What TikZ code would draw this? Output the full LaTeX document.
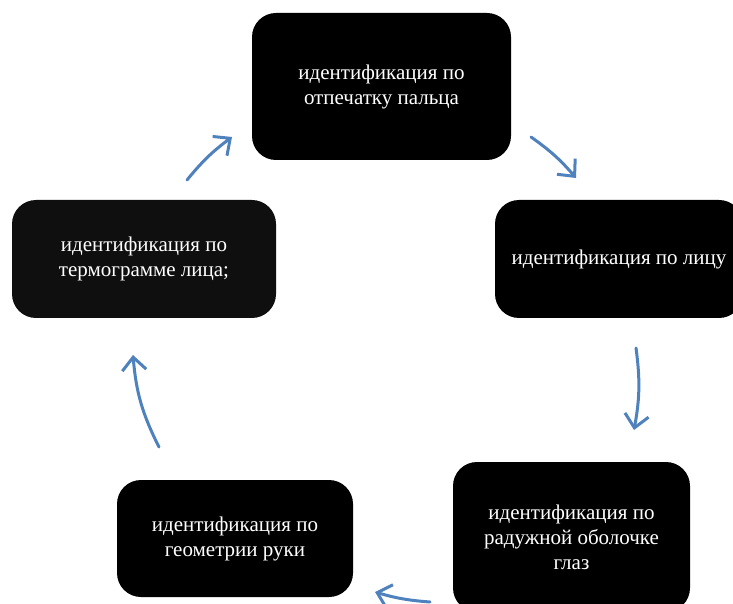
\documentclass[tikz,border=0pt]{standalone}
\usepackage{fontspec}
\setmainfont{Liberation Serif}
\usepackage{xcolor}
\usetikzlibrary{arrows.meta}
\definecolor{CycBlue}{HTML}{4F81BD}
\definecolor{BoxBlack}{HTML}{000000}
\definecolor{BoxSoft}{HTML}{0F0F0F}
\tikzset{
  stageBox/.style={rectangle, rounded corners=24pt, fill=BoxBlack, draw=none, text=white, align=center, inner sep=0pt, font=\fontsize{21pt}{25pt}\selectfont},
  cycleArrow/.style={-{Straight Barb[length=13pt, width=24pt, line width=3pt]}, draw=CycBlue, line width=3pt, line cap=round}
}

\begin{document}
\begin{tikzpicture}[x=1pt, y=1pt]
  \useasboundingbox (0,0) rectangle (733,603);
  \clip (0,0) rectangle (733,603);

  % Этапы
  \node[stageBox, minimum width=259pt, minimum height=147pt] (finger) at (381.5,516.5) {идентификация по\\отпечатку пальца};
  \node[stageBox, minimum width=248pt, minimum height=118pt] (face) at (619,344) {идентификация по лицу};
  \node[stageBox, minimum width=237pt, minimum height=150pt] (iris) at (571.5,66) {идентификация по\\радужной оболочке\\глаз};
  \node[stageBox, minimum width=236pt, minimum height=117pt] (hand) at (235,64.5) {идентификация по\\геометрии руки};
  \node[stageBox, fill=BoxSoft, minimum width=264pt, minimum height=118pt] (thermo) at (144,344) {идентификация по\\термограмме лица;};

  % Концы стрелок
  \coordinate (fingerOut) at (531,466);
  \coordinate (faceIn) at (576,425);
  \coordinate (faceOut) at (636,255);
  \coordinate (irisIn) at (634,173);
  \coordinate (irisOut) at (430,1);
  \coordinate (handIn) at (375,11);
  \coordinate (handOut) at (159,156);
  \coordinate (thermoIn) at (133,248);
  \coordinate (thermoOut) at (187,423);
  \coordinate (fingerIn) at (232,466);

  % Цикл
  \draw[cycleArrow] (fingerOut) to[bend left=7] (faceIn);
  \draw[cycleArrow] (faceOut) to[bend left=9] (irisIn);
  \draw[cycleArrow] (irisOut) to[bend left=6] (handIn);
  \draw[cycleArrow] (handOut) to[bend left=11] (thermoIn);
  \draw[cycleArrow] (thermoOut) to[bend left=7] (fingerIn);
\end{tikzpicture}
\end{document}
